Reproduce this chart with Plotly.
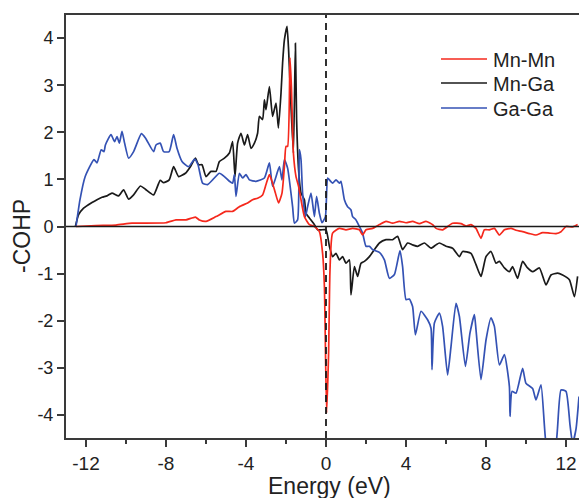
import plotly.graph_objects as go

# Mn-Mn (red)
e_mnmn = [-12.5, -11.5, -10.5, -9.7, -8.0, -7.5, -7.0, -6.53, -6.33, -6.0, -5.5, -5.0, -4.67, -4.33,
          -3.92, -3.67, -3.42, -3.17, -3.0, -2.83, -2.67, -2.53, -2.37, -2.2, -2.08, -2.0, -1.92,
          -1.8, -1.73, -1.63, -1.5, -1.37, -1.25, -1.08, -0.83, -0.58, -0.33, -0.17, -0.08, 0.03,
          0.13, 0.2, 0.33, 0.67, 1.0, 1.33, 1.67, 1.83, 2.0, 2.33, 2.67, 3.0, 3.33, 3.67, 4.0,
          4.33, 4.67, 5.0, 5.33, 5.5, 5.83, 6.33, 6.75, 7.0, 7.25, 7.5, 7.75, 7.92, 8.17, 8.42,
          8.67, 8.92, 9.25, 9.5, 9.83, 10.17, 10.5, 10.83, 11.17, 11.5, 11.75, 12.0, 12.33, 12.58]
v_mnmn = [0.0, 0.02, 0.03, 0.07, 0.08, 0.14, 0.14, 0.2, 0.14, 0.11, 0.21, 0.32, 0.32, 0.42,
          0.5, 0.57, 0.6, 0.67, 0.89, 1.1, 0.92, 0.71, 0.5, 0.71, 1.27, 1.7, 1.7,
          3.58, 2.97, 1.56, 1.06, 0.85, 0.57, 0.21, 0.04, 0.0, -0.11, -0.57, -1.27, -3.96,
          -2.69, -0.92, -0.14, -0.04, -0.07, -0.04, -0.07, -0.18, -0.07, -0.04, 0.04, 0.11, 0.07, 0.11, 0.08,
          0.11, 0.06, 0.11, 0.04, -0.04, -0.07, 0.07, 0.06, 0.01, 0.04, -0.04, -0.25, -0.07, -0.07, -0.04,
          -0.18, -0.07, -0.04, -0.08, -0.11, -0.15, -0.18, -0.13, -0.14, -0.15, -0.11, 0.0, -0.01, 0.04]

# Mn-Ga (black)
e_mnga = [-12.53, -12.37, -12.12, -11.7, -11.45, -11.2, -10.95, -10.7, -10.37, -10.12, -9.87, -9.62,
          -9.28, -9.03, -8.62, -8.29, -8.12, -7.84, -7.62, -7.37, -7.03, -6.78, -6.53, -6.37, -6.2,
          -6.0, -5.75, -5.5, -5.33, -5.08, -4.83, -4.67, -4.55, -4.42, -4.25, -4.08, -3.92, -3.75,
          -3.58, -3.42, -3.33, -3.17, -3.08, -3.0, -2.83, -2.67, -2.5, -2.38, -2.25, -2.17, -2.08,
          -1.95, -1.87, -1.75, -1.63, -1.53, -1.47, -1.37, -1.25, -1.08, -1.0, -0.83, -0.58, -0.42,
          -0.25, 0.0, 0.17, 0.33, 0.5, 0.67, 0.83, 1.0, 1.17, 1.25, 1.42, 1.58, 1.75, 1.92, 2.17,
          2.42, 2.67, 3.0, 3.33, 3.58, 3.83, 4.08, 4.33, 4.58, 4.92, 5.25, 5.5, 5.67, 6.0, 6.33,
          6.67, 6.83, 7.25, 7.5, 7.75, 8.0, 8.25, 8.5, 8.67, 8.92, 9.17, 9.33, 9.58, 9.83, 10.08,
          10.33, 10.67, 11.0, 11.25, 11.58, 11.83, 12.17, 12.42, 12.58]
v_mnga = [0.0, 0.25, 0.39, 0.51, 0.57, 0.62, 0.65, 0.71, 0.65, 0.78, 0.58, 0.67,
          0.86, 0.79, 0.67, 0.98, 0.93, 0.99, 1.27, 1.06, 1.13, 1.27, 1.45, 1.31, 1.31,
          1.06, 1.17, 1.17, 1.38, 1.45, 1.56, 1.8, 1.06, 1.77, 1.98, 1.73, 1.95, 1.66,
          1.77, 1.98, 2.34, 2.27, 2.69, 2.48, 2.97, 2.34, 2.62, 2.09, 2.83, 3.47, 3.96,
          4.25, 3.75, 2.55, 1.56, 3.89, 2.27, 1.2, 0.71, 0.57, 0.28, 0.18, 0.04, -0.07,
          -0.07, -0.07, -0.42, -0.64, -0.57, -0.71, -0.64, -0.78, -0.71, -1.45, -0.85, -1.06, -0.78, -0.74, -0.64,
          -0.49, -0.35, -0.28, -0.28, -0.21, -0.49, -0.35, -0.39, -0.42, -0.35, -0.46, -0.39, -0.35, -0.42, -0.46,
          -0.64, -0.53, -0.57, -0.81, -1.06, -0.64, -0.53, -0.78, -0.74, -0.88, -0.96, -0.85, -1.1, -0.74, -0.88,
          -0.96, -0.88, -1.24, -1.03, -0.99, -1.03, -1.13, -1.49, -1.06]

# Ga-Ga (blue)
e_gaga = [-12.5, -12.3, -12.04, -11.6, -11.45, -11.24, -11.1, -11.03, -10.75, -10.57, -10.45, -10.33,
          -10.2, -10.07, -9.87, -9.62, -9.23, -9.03, -8.62, -8.5, -8.29, -8.12, -7.84, -7.62, -7.45,
          -7.2, -6.87, -6.57, -6.4, -6.17, -5.92, -5.67, -5.33, -5.08, -4.83, -4.67, -4.58, -4.5,
          -4.33, -4.17, -4.0, -3.83, -3.5, -3.08, -2.83, -2.67, -2.33, -2.2, -2.08, -1.92, -1.67,
          -1.58, -1.42, -1.33, -1.25, -1.17, -1.03, -0.92, -0.75, -0.58, -0.47, -0.33, -0.2, -0.03,
          0.08, 0.17, 0.33, 0.5, 0.67, 0.75, 0.92, 1.08, 1.25, 1.33, 1.5, 1.67, 1.83, 2.0, 2.17,
          2.33, 2.67, 2.92, 3.17, 3.42, 3.7, 3.83, 4.0, 4.17, 4.33, 4.47, 4.75, 5.08, 5.25, 5.3,
          5.42, 5.67, 5.83, 6.08, 6.25, 6.5, 6.67, 6.97, 7.2, 7.42, 7.5, 7.75, 8.0, 8.25, 8.42,
          8.67, 8.92, 9.17, 9.2, 9.3, 9.5, 9.83, 10.0, 10.33, 10.5, 10.75, 11.0, 11.2, 11.5, 11.75,
          12.0, 12.2, 12.33, 12.5, 12.65]
v_gaga = [0.0, 0.57, 1.06, 1.42, 1.35, 1.63, 1.59, 1.73, 1.95, 1.8, 1.91, 1.77,
          2.02, 1.77, 1.45, 1.59, 1.97, 1.88, 1.59, 1.73, 1.77, 1.59, 1.59, 1.95, 1.66,
          1.38, 1.27, 1.43, 1.31, 0.92, 0.89, 0.99, 1.13, 1.06, 0.96, 0.92, 1.1, 0.64,
          1.13, 1.03, 1.1, 0.99, 0.96, 1.03, 1.35, 0.85, 1.27, 0.99, 1.42, 1.24, 0.42,
          0.07, 0.14, 1.63, 1.42, 0.71, 0.21, 0.42, 0.71, 0.21, 0.64, 0.28, 0.08, 0.21,
          1.03, 0.99, 0.92, 0.99, 0.92, 0.96, 0.57, 0.42, 0.35, 0.21, 0.14, 0.0, -0.14, -0.42, -0.42,
          -0.49, -0.55, -0.71, -1.1, -1.02, -0.51, -0.85, -1.55, -1.54, -1.7, -2.3, -1.8, -1.98, -2.16, -3.04,
          -2.05, -1.84, -2.12, -3.15, -2.55, -1.63, -1.91, -2.97, -2.26, -1.87, -2.19, -3.25, -2.41, -1.94, -2.12,
          -2.94, -2.72, -3.4, -4.03, -3.5, -3.54, -3.01, -3.33, -3.44, -3.68, -3.36, -4.6, -4.8, -4.6, -3.47,
          -3.5, -4.21, -4.6, -4.3, -3.61]

series_names = ["Mn-Mn", "Mn-Ga", "Ga-Ga"]
series_colors = ["#f5281c", "#1a1a1a", "#3452b4"]

x_ticks = [-12, -8, -4, 0, 4, 8, 12]
y_ticks = [-4, -3, -2, -1, 0, 1, 2, 3, 4]

FONT = "Liberation Sans, Arial, sans-serif"
AX = "#3a3a3a"
TXT = "#222222"

fig = go.Figure()
line_kw = dict(width=1.7, shape="spline", smoothing=0.5)
fig.add_trace(go.Scatter(x=e_mnga, y=v_mnga, mode="lines", name=series_names[1],
                         line=dict(color=series_colors[1], **line_kw)))
fig.add_trace(go.Scatter(x=e_gaga, y=v_gaga, mode="lines", name=series_names[2],
                         line=dict(color=series_colors[2], **line_kw)))
fig.add_trace(go.Scatter(x=e_mnmn, y=v_mnmn, mode="lines", name=series_names[0],
                         line=dict(color=series_colors[0], **line_kw)))

fig.add_hline(y=0, line=dict(color="#1a1a1a", width=1.5))
fig.add_vline(x=0, line=dict(color="#1a1a1a", width=1.8, dash="7px,5px"))

# manual legend (pixel positions converted to paper coords)
def px_x(p):
    return (p - 66) / 513
def px_y(p):
    return (438 - p) / 423

legend_rows = [59, 83, 108]
for name, col, row in zip(series_names, series_colors, legend_rows):
    fig.add_shape(type="line", xref="paper", yref="paper",
                  x0=px_x(441), x1=px_x(487), y0=px_y(row), y1=px_y(row),
                  line=dict(color=col, width=1.7))
    fig.add_annotation(xref="paper", yref="paper", x=px_x(491), y=px_y(row + 1),
                       text=name, showarrow=False, xanchor="left", yanchor="middle",
                       font=dict(size=20, color=TXT, family=FONT))

fig.add_annotation(xref="paper", yref="paper", x=px_x(329), y=px_y(486),
                   text="Energy (eV)", showarrow=False, xanchor="center", yanchor="middle",
                   font=dict(size=23, color=TXT, family=FONT))
fig.add_annotation(xref="paper", yref="paper", x=px_x(22), y=px_y(236),
                   text="-COHP", showarrow=False, xanchor="center", yanchor="middle",
                   textangle=-90, font=dict(size=23, color=TXT, family=FONT))

fig.update_layout(
    width=579, height=498,
    margin=dict(l=66, r=0, t=15, b=60),
    plot_bgcolor="white", paper_bgcolor="white",
    font=dict(family=FONT, size=18, color=TXT),
    showlegend=False,
)
fig.update_xaxes(range=[-13, 12.65], tickvals=x_ticks, ticktext=[str(t) for t in x_ticks],
                 ticks="outside", ticklen=7, tickwidth=1.5, tickcolor=AX,
                 minor=dict(dtick=2, tick0=0, ticks="outside", ticklen=4, tickwidth=1.5, tickcolor=AX),
                 showline=True, linecolor=AX, linewidth=2, mirror=True,
                 showgrid=False, zeroline=False,
                 tickfont=dict(size=19))
fig.update_yaxes(range=[-4.49, 4.49], tickvals=y_ticks, ticktext=[str(t) for t in y_ticks],
                 ticks="outside", ticklen=7, tickwidth=1.5, tickcolor=AX,
                 showline=True, linecolor=AX, linewidth=2,
                 showgrid=False, zeroline=False,
                 tickfont=dict(size=18))

fig.write_html("out.html")
